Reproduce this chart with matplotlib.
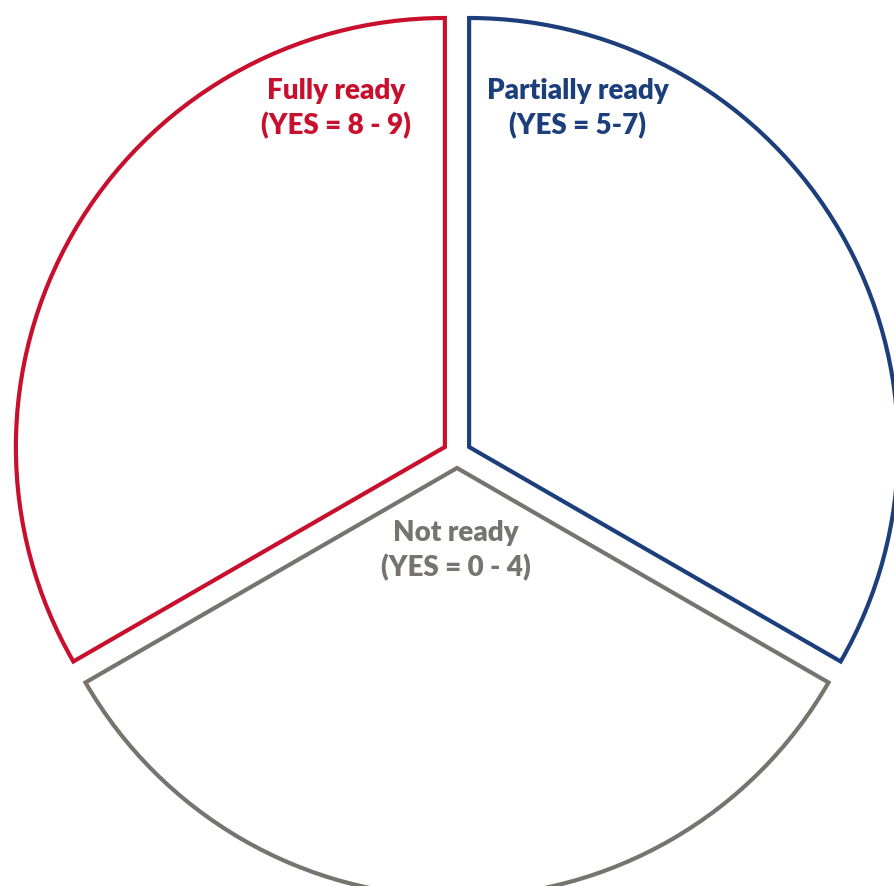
import matplotlib
matplotlib.use("Agg")
import matplotlib.pyplot as plt

# data: three equal readiness groups
categories = ["Partially ready", "Not ready", "Fully ready"]
ranges = ["(YES = 5-7)", "(YES = 0 - 4)", "(YES = 8 - 9)"]
shares = [1, 1, 1]
colors = ["#1c3f7c", "#77736f", "#c8102e"]

plt.rcParams['font.family'] = ['Lato', 'DejaVu Sans']

W, H = 895, 887
fig = plt.figure(figsize=(W / 100, H / 100), dpi=100)
ax = fig.add_axes([0, 0, 1, 1])

radius = 429
center = (457, H - 455)

# explode is in data units (pixels here), not a fraction of radius
wedges, _ = ax.pie(shares, radius=radius, center=center, startangle=90,
                   counterclock=False, explode=[14] * 3,
                   wedgeprops=dict(facecolor="none", linewidth=3.0,
                                   joinstyle="miter"))
for w, c in zip(wedges, colors):
    w.set_edgecolor(c)

ax.set_xlim(0, W)
ax.set_ylim(0, H)
ax.set_aspect("equal")
ax.axis("off")

# label positions (pixel coords, y measured from top)
label_pos = [(578, 109), (456, 551), (336, 109)]
for name, rng, c, (x, y) in zip(categories, ranges, colors, label_pos):
    ax.text(x, H - y, name + "\n" + rng, ha="center", va="center",
            color=c, fontsize=20, fontweight="heavy", linespacing=1.35)

fig.savefig("out.png", dpi=100)
